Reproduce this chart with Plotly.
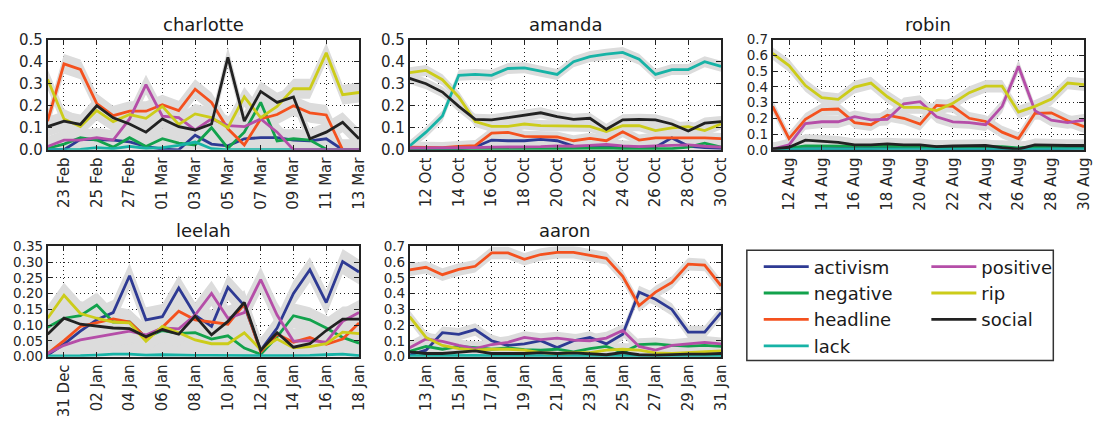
import pandas as pd
import plotly.graph_objects as go

# ---- data: daily share of tweets per topic, one panel per person ----
topics = ["activism", "negative", "headline", "lack", "positive", "rip", "social"]
colors = {
    "activism": "#2e3a93",
    "negative": "#12a24c",
    "headline": "#f4511e",
    "lack": "#17b3a6",
    "positive": "#b54ea8",
    "rip": "#cccc1a",
    "social": "#222222",
}

charlotte_start = "2014-02-22"
charlotte_activism = [0, 0, .047, .047, .044, .036, .015, .003, 0, .066, .026, .018, .05, .055, .055, .044, .04, .05, 0, 0]
charlotte_negative = [.007, .026, .055, .044, .012, .055, .015, .05, .03, .022, .1, .007, .08, .215, .04, .05, .044, .003, 0, 0]
charlotte_headline = [.13, .39, .365, .21, .155, .175, .175, .205, .178, .275, .215, .095, .022, .14, .16, .2, .168, .158, 0, 0]
charlotte_lack = [0, 0, .002, .01, .005, .015, .007, .01, .02, .035, .005, 0, 0, 0, 0, 0, 0, 0, 0, 0]
charlotte_positive = [.015, .044, .044, .055, .044, .14, .296, .153, .146, .09, .14, .11, .105, .14, .08, 0, 0, 0, 0, 0]
charlotte_rip = [.32, .14, .105, .178, .128, .16, .143, .197, .115, .163, .146, .1, .24, .146, .197, .277, .277, .44, .25, .26]
charlotte_social = [.105, .13, .115, .2, .145, .117, .08, .14, .105, .09, .117, .42, .13, .265, .215, .24, .05, .08, .125, .05]

amanda_start = "2012-10-11"
amanda_activism = [.004, .004, .004, .004, .012, .044, .041, .041, .047, .041, .017, .015, .015, .012, .012, .012, .054, .017, .01, .007]
amanda_negative = [0, 0, 0, 0, 0, 0, .002, .003, .004, .005, .006, .006, .008, .005, .004, .004, .005, .012, .03, .012]
amanda_headline = [.012, .01, .01, .015, .019, .076, .079, .061, .058, .058, .041, .052, .041, .082, .044, .054, .054, .055, .054, .051]
amanda_lack = [.017, .08, .153, .338, .342, .338, .369, .372, .357, .342, .4, .423, .434, .442, .411, .342, .364, .364, .4, .379]
amanda_positive = [.008, .008, .008, .01, .01, .012, .012, .012, .014, .018, .016, .02, .024, .018, .014, .018, .02, .022, .016, .012]
amanda_rip = [.35, .36, .318, .24, .128, .106, .106, .117, .11, .109, .109, .106, .083, .109, .109, .087, .099, .105, .087, .117]
amanda_social = [.324, .3, .262, .197, .138, .136, .146, .157, .168, .15, .138, .143, .093, .136, .138, .136, .117, .085, .121, .128]

robin_start = "2014-08-11"
robin_activism = [.005, .005, .008, .008, .008, .008, .008, .01, .012, .01, .008, .008, .008, .01, .01, .008, .005, .008, .008, .01]
robin_negative = [.005, .01, .025, .024, .022, .02, .02, .02, .02, .02, .02, .02, .02, .022, .02, .012, .02, .022, .022, .022]
robin_headline = [.276, .071, .194, .255, .259, .173, .159, .22, .2, .163, .282, .276, .2, .18, .112, .071, .231, .235, .184, .147]
robin_lack = [.002, .004, .005, .005, .004, .004, .004, .004, .004, .004, .004, .004, .004, .004, .004, .004, .004, .004, .004, .004]
robin_positive = [.004, .031, .167, .178, .178, .21, .19, .194, .292, .306, .21, .178, .173, .159, .276, .531, .249, .188, .173, .188]
robin_rip = [.612, .535, .408, .331, .32, .398, .424, .337, .269, .269, .249, .296, .363, .404, .404, .239, .276, .322, .424, .414]
robin_social = [.006, .016, .061, .055, .047, .031, .031, .037, .031, .031, .02, .024, .024, .027, .014, .004, .031, .027, .027, .027]

leelah_start = "2014-12-30"
leelah_activism = [.005, .04, .081, .117, .14, .257, .117, .127, .218, .132, .096, .22, .162, .02, .091, .201, .276, .172, .302, .269]
leelah_negative = [.093, .122, .13, .164, .11, .11, .061, .083, .074, .076, .056, .066, .027, .007, .063, .13, .117, .091, .061, .043]
leelah_headline = [.01, .051, .096, .107, .12, .11, .061, .093, .144, .117, .11, .103, .167, .015, .071, .046, .061, .039, .056, .107]
leelah_lack = [.002, .002, .003, .005, .008, .008, .005, .006, .004, .004, .004, .003, .003, .003, .003, .003, .004, .006, .008, .003]
leelah_positive = [.01, .036, .053, .063, .073, .081, .069, .091, .088, .132, .201, .122, .14, .245, .132, .049, .051, .046, .112, .14]
leelah_rip = [.122, .195, .137, .122, .11, .107, .049, .096, .076, .053, .041, .041, .076, .022, .056, .028, .032, .041, .078, .073]
leelah_social = [.071, .122, .103, .096, .091, .089, .063, .086, .071, .129, .069, .112, .172, .02, .076, .03, .041, .083, .119, .119]

aaron_start = "2013-01-12"
aaron_activism = [.01, .041, .152, .142, .172, .101, .071, .081, .101, .057, .101, .122, .081, .142, .41, .365, .3, .156, .156, .28]
aaron_negative = [.034, .065, .047, .065, .057, .047, .055, .045, .041, .047, .03, .051, .065, .026, .077, .081, .071, .067, .071, .065]
aaron_headline = [.552, .568, .521, .554, .574, .659, .659, .619, .649, .663, .663, .645, .625, .511, .325, .41, .471, .588, .582, .45]
aaron_lack = [.005, .008, .006, .008, .008, .006, .006, .006, .008, .006, .006, .006, .006, .008, .006, .004, .006, .006, .006, .006]
aaron_positive = [.057, .112, .097, .071, .051, .077, .091, .122, .108, .118, .105, .101, .118, .166, .065, .041, .071, .081, .091, .081]
aaron_rip = [.254, .122, .071, .051, .041, .047, .047, .041, .026, .02, .026, .026, .041, .047, .041, .024, .02, .026, .03, .037]
aaron_social = [.03, .02, .02, .028, .037, .02, .02, .02, .026, .02, .024, .016, .012, .026, .012, .01, .014, .016, .016, .02]

# name, start date, y max, y tick step, y tick format, y tick font size, band half-width
panels = [
    ("charlotte", charlotte_start, 0.5, 0.1, ".1f", 15, 0.045),
    ("amanda", amanda_start, 0.5, 0.1, ".1f", 15, 0.025),
    ("robin", robin_start, 0.7, 0.1, ".1f", 13.5, 0.04),
    ("leelah", leelah_start, 0.35, 0.05, ".2f", 13.5, 0.04),
    ("aaron", aaron_start, 0.7, 0.1, ".1f", 13.5, 0.04),
]
series = {name: {t: globals()[f"{name}_{t}"] for t in topics} for name, *_ in panels}

# ---- layout geometry (pixels) ----
W, H = 1100, 425
cols_px = [(48, 362), (413, 727), (779, 1093)]
rows_px = [(32, 147), (248, 363)]
cells = [(0, 0), (0, 1), (0, 2), (1, 0), (1, 1)]

FONT = "DejaVu Sans"
TXT = "#262626"
DAY_MS = 86400000

fig = go.Figure()
layout = dict(
    width=W, height=H,
    margin=dict(l=0, r=0, t=0, b=0),
    paper_bgcolor="white", plot_bgcolor="white",
    font=dict(family=FONT, size=15, color=TXT),
    showlegend=True,
)
annotations = []

# bands first so every line sits on top of the grey areas
for i, (name, start, ymax, ystep, yfmt, yfs, half) in enumerate(panels):
    ax = "" if i == 0 else str(i + 1)
    days = pd.date_range(start, periods=20)
    for t in topics:
        vals = series[name][t]
        upper = [v + half for v in vals]
        lower = [max(0.0, v - half) for v in vals]
        fig.add_trace(go.Scatter(
            x=list(days) + list(days[::-1]),
            y=upper + lower[::-1],
            fill="toself", fillcolor="#dcdcdc",
            line=dict(width=0), mode="lines",
            hoverinfo="skip", showlegend=False,
            xaxis="x" + ax, yaxis="y" + ax,
        ))

for i, (name, start, ymax, ystep, yfmt, yfs, half) in enumerate(panels):
    ax = "" if i == 0 else str(i + 1)
    days = pd.date_range(start, periods=20)
    for t in topics:
        fig.add_trace(go.Scatter(
            x=days, y=series[name][t], mode="lines", name=t,
            line=dict(color=colors[t], width=2.8),
            showlegend=(i == 0),
            legend="legend" if t in ("activism", "negative", "headline", "lack") else "legend2",
            xaxis="x" + ax, yaxis="y" + ax,
        ))

    r, c = cells[i]
    x0, x1 = cols_px[c]
    y0, y1 = rows_px[r]
    xd = [x0 / W, x1 / W]
    yd = [1 - y1 / H, 1 - y0 / H]
    axis_common = dict(
        showline=True, mirror="ticks", linecolor="#222", linewidth=1.5,
        showgrid=True, gridcolor="#222", gridwidth=1, griddash="1px,3px",
        zeroline=False, ticks="inside", ticklen=5, tickwidth=1, tickcolor="#222",
    )
    layout["xaxis" + ax] = dict(
        axis_common, domain=xd, anchor="y" + ax, type="date",
        range=[days[0], days[-1]],
        tick0=days[1], dtick=2 * DAY_MS, tickformat="%d %b", tickangle=-90,
        tickfont=dict(family=FONT, size=15, color=TXT),
    )
    layout["yaxis" + ax] = dict(
        axis_common, domain=yd, anchor="x" + ax,
        range=[0, ymax], tick0=0, dtick=ystep, tickformat=yfmt,
        tickfont=dict(family=FONT, size=yfs, color=TXT),
    )
    annotations.append(dict(
        text=name, x=(xd[0] + xd[1]) / 2, y=yd[1], xref="paper", yref="paper",
        xanchor="center", yanchor="bottom", yshift=3, showarrow=False,
        font=dict(family=FONT, size=18, color="#1a1a1a"),
    ))

leg_font = dict(family=FONT, size=18, color="#1a1a1a")
layout["legend"] = dict(
    x=765 / W, y=1 - 250 / H, xanchor="left", yanchor="top",
    bgcolor="rgba(0,0,0,0)", borderwidth=0, font=leg_font,
    itemwidth=45, tracegroupgap=0,
)
layout["legend2"] = dict(
    x=934 / W, y=1 - 250 / H, xanchor="left", yanchor="top",
    bgcolor="rgba(0,0,0,0)", borderwidth=0, font=leg_font,
    itemwidth=45, tracegroupgap=0,
)
layout["shapes"] = [dict(
    type="rect", xref="paper", yref="paper",
    x0=753 / W, x1=1062 / W, y0=1 - 367 / H, y1=1 - 252 / H,
    line=dict(color="#333", width=1.5), fillcolor="rgba(0,0,0,0)",
)]
layout["annotations"] = annotations
fig.update_layout(**layout)

fig.write_html("out.html")
